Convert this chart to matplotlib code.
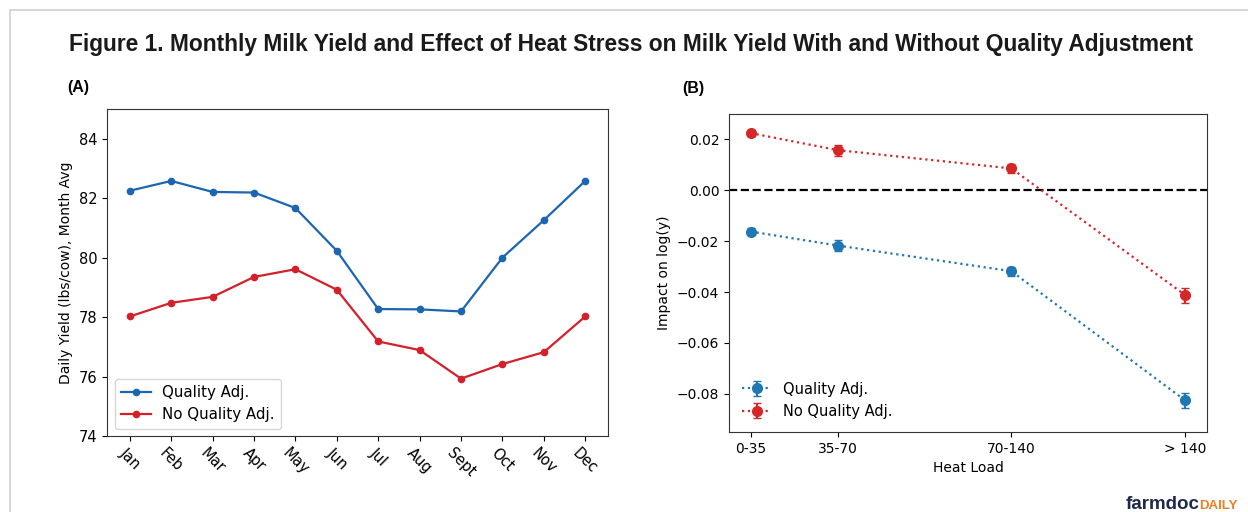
import numpy as np
import matplotlib
matplotlib.use("Agg")
import matplotlib.pyplot as plt
from matplotlib.patches import Rectangle

# Panel A: monthly averages
months = ["Jan", "Feb", "Mar", "Apr", "May", "Jun", "Jul", "Aug", "Sept", "Oct", "Nov", "Dec"]
yield_qadj = [82.25, 82.58, 82.21, 82.19, 81.67, 80.23, 78.27, 78.26, 78.19, 80.00, 81.26, 82.58]
yield_noadj = [78.02, 78.48, 78.68, 79.35, 79.61, 78.92, 77.18, 76.89, 75.93, 76.42, 76.82, 78.02]

# Panel B: heat load effects
heat_labels = ["0-35", "35-70", "70-140", "> 140"]
heat_pos = [0, 1, 3, 5]
eff_qadj = [-0.0162, -0.0217, -0.0318, -0.0826]
err_qadj = [0.0012, 0.0020, 0.0018, 0.0030]
eff_noadj = [0.0225, 0.0158, 0.0086, -0.0412]
err_noadj = [0.0010, 0.0022, 0.0018, 0.0030]

C_BLUE_A, C_RED_A = "#1c66b1", "#d4202a"
C_BLUE_B, C_RED_B = "#1f77b4", "#d62728"

fig = plt.figure(figsize=(12.48, 5.12), dpi=100)

# light frame around the figure
fig.patches.append(Rectangle((10/1248, -0.1), 1.2, 1 - 10/512 + 0.1, transform=fig.transFigure,
                             fill=False, edgecolor="#cfcfcf", linewidth=1.2))

fig.text(0.506, 0.914, "Figure 1. Monthly Milk Yield and Effect of Heat Stress on Milk Yield With and Without Quality Adjustment",
         ha="center", va="center", fontsize=16.4, fontweight="bold", family="Liberation Sans", color="#1a1a1a")
fig.text(0.054, 0.830, "(A)", ha="left", va="center", fontsize=11.5, fontweight="bold", family="Liberation Sans")
fig.text(0.547, 0.828, "(B)", ha="left", va="center", fontsize=11.5, fontweight="bold", family="Liberation Sans")

# ─── Panel A ───
axA = fig.add_axes([107/1248, 1 - 436/512, 501/1248, 327/512])
x = np.arange(len(months))
axA.plot(x, yield_qadj, "o-", color=C_BLUE_A, markersize=4.5, linewidth=1.6, label="Quality Adj.")
axA.plot(x, yield_noadj, "o-", color=C_RED_A, markersize=4.5, linewidth=1.6, label="No Quality Adj.")
axA.set_xticks(x)
axA.set_xticklabels(months, rotation=-45, fontsize=10.5)
axA.set_ylim(74, 85)
axA.set_yticks([74, 76, 78, 80, 82, 84])
axA.tick_params(axis="y", labelsize=10.5)
axA.set_ylabel("Daily Yield (lbs/cow), Month Avg", fontsize=10)
axA.legend(loc="lower left", fontsize=10.8)
for s in axA.spines.values():
    s.set_color("#333333")

# ─── Panel B ───
axB = fig.add_axes([729/1248, 1 - 432/512, 478/1248, 318/512])
axB.axhline(0, color="black", ls="--", lw=1.6, zorder=1)
axB.errorbar(heat_pos, eff_qadj, yerr=err_qadj, fmt="o:", color=C_BLUE_B, markersize=7,
             capsize=3, linewidth=1.6, label="Quality Adj.")
axB.errorbar(heat_pos, eff_noadj, yerr=err_noadj, fmt="o:", color=C_RED_B, markersize=7,
             capsize=3, linewidth=1.6, label="No Quality Adj.")
axB.set_xticks(heat_pos)
axB.set_xticklabels(heat_labels)
axB.set_xlim(-0.25, 5.25)
axB.set_ylim(-0.095, 0.030)
axB.set_yticks([-0.08, -0.06, -0.04, -0.02, 0.00, 0.02])
axB.tick_params(labelsize=10)
axB.set_xlabel("Heat Load", fontsize=10)
axB.set_ylabel("Impact on log(y)", fontsize=10)
axB.legend(loc="lower left", fontsize=10.5, frameon=False)
for s in axB.spines.values():
    s.set_color("#333333")

# logo text
fig.text(1126/1248, 0.014, "farmdoc", ha="left", va="center", fontsize=13.5, fontweight="bold",
         color="#1f2a4a", family="Liberation Sans")
fig.text(1199/1248, 0.012, "DAILY", ha="left", va="center", fontsize=9.5, fontweight="bold",
         color="#f07f23", family="Liberation Sans")

plt.savefig("out.png", dpi=100)
